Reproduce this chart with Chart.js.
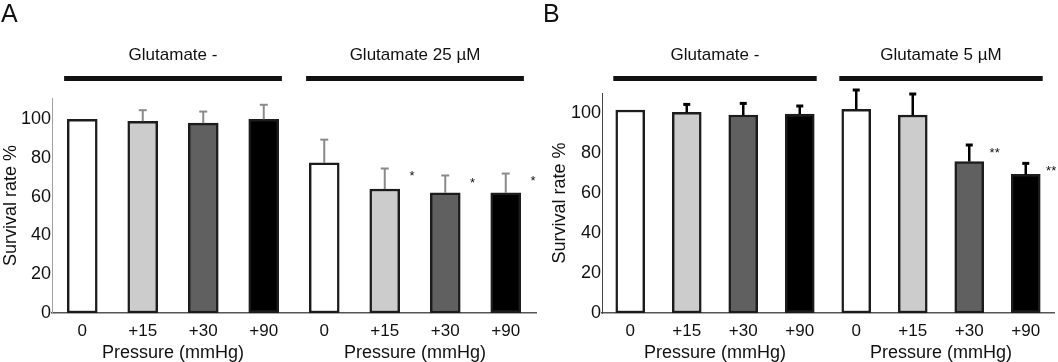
<!DOCTYPE html>
<html>
<head>
<meta charset="utf-8">
<script src="https://cdn.jsdelivr.net/npm/chart.js@4.4.1/dist/chart.umd.min.js"></script>
<style>
  body { margin: 0; background: #fff; font-family: 'Liberation Sans', Arial, sans-serif; }
  #page { position: relative; width: 1058px; height: 362px; overflow: hidden; }
  .wrap { position: absolute; top: 0; height: 362px; }
  #wrapA { left: 0; width: 546px; }
  #wrapB { left: 530px; width: 528px; }
  .letter { position: absolute; top: 1px; font-size: 25px; line-height: 25px; color: #111; }
</style>
</head>
<body>
<div id="page">
  <div class="wrap" id="wrapA"><canvas id="chartA" width="546" height="362"></canvas></div>
  <div class="wrap" id="wrapB"><canvas id="chartB" width="528" height="362"></canvas></div>
  <div class="letter" style="left:1px">A</div>
  <div class="letter" style="left:543px">B</div>
</div>
<script>
const pressureLabels = ['0', '+15', '+30', '+90', '0', '+15', '+30', '+90'];
const yTicks = [0, 20, 40, 60, 80, 100];
const barFills = ['#ffffff', '#cccccc', '#606060', '#000000', '#ffffff', '#cccccc', '#606060', '#000000'];

// panel A
const survivalA = [100, 99, 98, 100, 77.5, 64, 62, 62];
const errorA = [0, 5.7, 6, 7.5, 12, 10.6, 9, 10];
const marksA = ['', '', '', '', '', '*', '*', '*'];
const groupsA = ['Glutamate -', 'Glutamate 25 µM'];

// panel B
const survivalB = [101.5, 100.3, 99, 99.5, 101.8, 99, 75.7, 69.3];
const errorB = [0, 4, 5.8, 4, 9.7, 10.5, 8.3, 5.5];
const marksB = ['', '', '', '', '', '', '**', '**'];
const groupsB = ['Glutamate -', 'Glutamate 5 µM'];

const FONT = "'Liberation Sans', Arial, sans-serif";

const annotate = {
  id: 'annotate',
  afterDatasetsDraw(chart, args, o) {
    const ctx = chart.ctx;
    const x = chart.scales.x, y = chart.scales.y;
    const vals = chart.data.datasets[0].data;
    const step = x.getPixelForValue(1) - x.getPixelForValue(0);
    ctx.save();

    // error bars (upper only)
    ctx.strokeStyle = o.errColor;
    vals.forEach((v, i) => {
      const e = o.errors[i];
      if (!e) return;
      const px = x.getPixelForValue(i);
      const top = y.getPixelForValue(v + e);
      ctx.lineWidth = o.errWidth;
      ctx.beginPath();
      ctx.moveTo(px, y.getPixelForValue(v));
      ctx.lineTo(px, top);
      ctx.stroke();
      ctx.lineWidth = o.capWidth;
      ctx.beginPath();
      ctx.moveTo(px - o.cap, top);
      ctx.lineTo(px + o.cap, top);
      ctx.stroke();
    });

    // significance marks
    ctx.fillStyle = '#111';
    ctx.font = '13px ' + FONT;
    ctx.textAlign = 'center';
    ctx.textBaseline = 'middle';
    vals.forEach((v, i) => {
      if (!o.marks[i]) return;
      const px = x.getPixelForValue(i) + step * 0.45;
      ctx.fillText(o.marks[i], px, y.getPixelForValue(v + o.errors[i]) + 8);
    });

    // group titles, bars and axis captions
    o.groups.forEach((name, g) => {
      const c = (x.getPixelForValue(g * 4) + x.getPixelForValue(g * 4 + 3)) / 2;
      ctx.fillStyle = '#111';
      ctx.font = '17px ' + FONT;
      ctx.fillText(name, c, 55);
      ctx.fillRect(c - step * 1.8, 76, step * 3.6, 5);
      ctx.font = '18px ' + FONT;
      ctx.fillText('Pressure (mmHg)', c, 353);
    });
    ctx.restore();
  }
};

function makeChart(id, values, errors, marks, groups, o) {
  return new Chart(document.getElementById(id), {
    type: 'bar',
    data: {
      labels: pressureLabels,
      datasets: [{
        data: values,
        backgroundColor: barFills,
        borderColor: '#1c1c1c',
        borderWidth: 2.5,
        borderSkipped: false,
        barThickness: o.barW
      }]
    },
    options: {
      responsive: false,
      animation: false,
      layout: { padding: { top: o.top, right: o.right, left: o.left, bottom: 0 } },
      plugins: {
        legend: { display: false },
        tooltip: { enabled: false },
        annotate: {
          errors: errors, marks: marks, groups: groups,
          errColor: o.errColor, errWidth: o.errWidth, capWidth: o.capWidth, cap: o.cap
        }
      },
      scales: {
        x: {
          grid: { display: false, drawTicks: false },
          border: { color: '#555', width: 1.5 },
          ticks: { color: '#111', font: { family: FONT, size: 17 }, padding: 8 },
          afterFit: s => { s.height = 49; }
        },
        y: {
          min: 0,
          max: o.max,
          grid: { display: false, drawTicks: false },
          border: { color: o.yAxisColor, width: 1 },
          ticks: { color: '#111', font: { family: FONT, size: 18 }, padding: 1 },
          afterBuildTicks: s => { s.ticks = yTicks.map(v => ({ value: v })); },
          afterFit: s => { s.width = o.yWidth; },
          title: { display: true, text: 'Survival rate %', color: '#111', font: { family: FONT, size: 18 }, padding: 0 }
        }
      }
    },
    plugins: [annotate]
  });
}

makeChart('chartA', survivalA, errorA, marksA, groupsA, {
  top: 98, right: 10, left: 0, yWidth: 52, max: 111, barW: 30,
  errColor: '#8a8a8a', errWidth: 2, capWidth: 2, cap: 4, yAxisColor: '#a0a0a0'
});

makeChart('chartB', survivalB, errorB, marksB, groupsB, {
  top: 93, right: 4, left: 19, yWidth: 53, max: 110, barW: 29,
  errColor: '#000000', errWidth: 2.5, capWidth: 3, cap: 3.5, yAxisColor: '#444444'
});
</script>
</body>
</html>
